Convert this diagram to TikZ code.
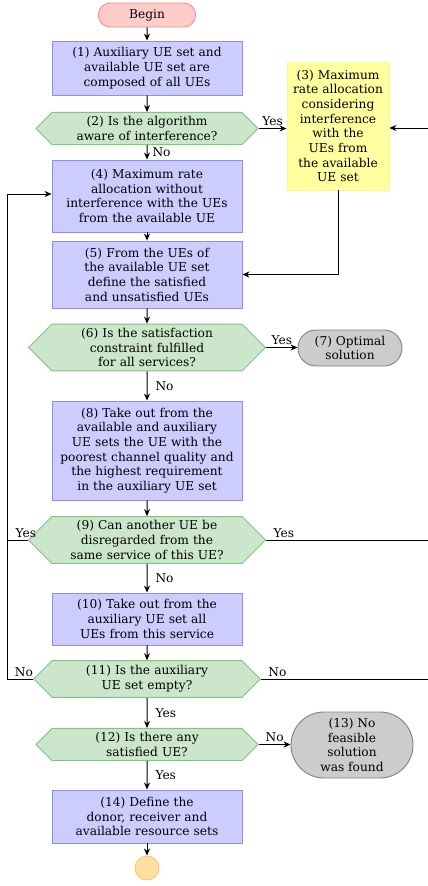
\documentclass[tikz,border=0pt]{standalone}
\usepackage{fontspec}
\setmainfont{DejaVu Serif}
\usetikzlibrary{shapes.symbols, shapes.misc, arrows.meta, positioning}
\definecolor{beginfill}{RGB}{255,204,204}
\definecolor{beginline}{RGB}{245,140,140}
\definecolor{procfill}{RGB}{204,204,255}
\definecolor{procline}{RGB}{140,140,250}
\definecolor{askfill}{RGB}{204,230,204}
\definecolor{askline}{RGB}{128,196,128}
\definecolor{intfill}{RGB}{255,255,160}
\definecolor{intline}{RGB}{250,250,140}
\definecolor{endfill}{RGB}{204,204,204}
\definecolor{endline}{RGB}{130,130,130}
\definecolor{stopfill}{RGB}{255,224,160}
\definecolor{stopline}{RGB}{255,200,110}

\tikzset{
  every node/.style={font=\fontsize{12.2}{14.7}\selectfont},
  procbox/.style={rectangle, draw=procline, fill=procfill, line width=0.9pt,
    minimum width=190pt, text width=184pt, align=center, inner sep=3pt},
  askbox/.style={signal, signal to=east and west, draw=askline, fill=askfill,
    line width=0.9pt, text width=186pt, align=center, inner xsep=2pt, inner ysep=4pt},
  termbox/.style={rounded rectangle, draw=endline, fill=endfill, line width=0.9pt,
    align=center, inner sep=3pt},
  flow/.style={-{Stealth[length=7pt,width=6pt]}, line width=1pt},
  link/.style={line width=1pt},
  lbl/.style={font=\fontsize{12.2}{13}\selectfont, inner sep=2pt}
}

\begin{document}
\begin{tikzpicture}[x=1pt,y=-1pt]
\useasboundingbox (0,0) rectangle (428,886);

% column of steps
\node[rounded rectangle, draw=beginline, fill=beginfill, line width=0.9pt,
  minimum width=104pt, minimum height=24pt] (begin) at (147,15) {Begin};
\node[procbox, minimum height=54pt] (p1) at (147,68)
  {(1) Auxiliary UE set and\\available UE set are\\composed of all UEs};
\node[askbox] (d2) at (147,128.5)
  {(2) Is the algorithm\\aware of interference?};
\node[rectangle, draw=intline, fill=intfill, line width=0.9pt, minimum width=102pt,
  minimum height=128pt, text width=98pt, align=center, inner sep=2pt] (p3) at (338,126)
  {(3) Maximum\\rate allocation\\considering\\interference\\with the\\UEs from\\the available\\UE set};
\node[procbox, minimum height=72pt] (p4) at (147,196)
  {(4) Maximum rate\\allocation without\\interference with the UEs\\from the available UE};
\node[procbox, minimum height=67pt] (p5) at (147,274.5)
  {(5) From the UEs of\\the available UE set\\define the satisfied\\and unsatisfied UEs};
\node[askbox] (d6) at (147,347.5)
  {(6) Is the satisfaction\\constraint fulfilled\\for all services?};
\node[termbox, minimum width=110pt, minimum height=36pt] (t7) at (350,348)
  {(7) Optimal\\solution};
\node[procbox, minimum height=99pt] (p8) at (147,450.5)
  {(8) Take out from the\\available and auxiliary\\UE sets the UE with the\\poorest channel quality and\\the highest requirement\\in the auxiliary UE set};
\node[askbox] (d9) at (147,540)
  {(9) Can another UE be\\disregarded from the\\same service of this UE?};
\node[procbox, minimum height=52pt] (p10) at (147,619)
  {(10) Take out from the\\auxiliary UE set all\\UEs from this service};
\node[askbox, inner ysep=5pt] (d11) at (147,679)
  {(11) Is the auxiliary\\UE set empty?};
\node[askbox] (d12) at (147,744.5)
  {(12) Is there any\\satisfied UE?};
\node[termbox, minimum width=128pt, minimum height=66pt] (t13) at (352,745)
  {(13) No\\feasible\\solution\\was found};
\node[procbox, minimum height=53pt] (p14) at (147,816.5)
  {(14) Define the\\donor, receiver and\\available resource sets};
\node[circle, draw=stopline, fill=stopfill, line width=0.9pt, minimum size=24pt] (stop) at (147,868) {};

% loop corners
\coordinate (loopL) at (7,194);
\coordinate (loopR) at (440,128);

% connectors
\draw[flow] (begin) -- (p1);
\draw[flow] (p1) -- (d2);
\draw[flow] (d2) -- node[lbl, right, xshift=3pt] {No} (p4);
\draw[flow] (d2.east) -- node[lbl, above] {Yes} (p3.west |- d2.east);
\draw[flow] (p3) |- (p5.east);
\draw[flow] (p4) -- (p5);
\draw[flow] (p5) -- (d6);
\draw[flow] (d6.east) -- node[lbl, above] {Yes} (t7.west |- d6.east);
\draw[flow] (d6) -- node[lbl, right, xshift=6pt] {No} (p8);
\draw[flow] (p8) -- (d9);
\draw[flow] (d9) -- node[lbl, right, xshift=6pt] {No} (p10);
\draw[flow] (p10) -- (d11);
\draw[flow] (d11) -- node[lbl, right, xshift=6pt] {Yes} (d12);
\draw[flow] (d12.east) -- node[lbl, above] {No} (t13.west |- d12.east);
\draw[flow] (d12) -- node[lbl, right, xshift=6pt] {Yes} (p14);
\draw[flow] (p14) -- (stop);

% back loops
\draw[link] (d9.west) -- node[lbl, above, pos=0.1] {Yes} (d9.west -| loopL);
\draw[flow] (d11.west) -- node[lbl, above, pos=0.35] {No} (d11.west -| loopL) -- (loopL) -- (loopL -| p4.west);
\draw[link] (d9.east) -- node[lbl, above right, pos=0, xshift=5pt] {Yes} (d9.east -| loopR);
\draw[flow] (d11.east) -- node[lbl, above right, pos=0, xshift=5pt] {No} (d11.east -| loopR) -- (loopR) -- (loopR -| p3.east);
\end{tikzpicture}
\end{document}
